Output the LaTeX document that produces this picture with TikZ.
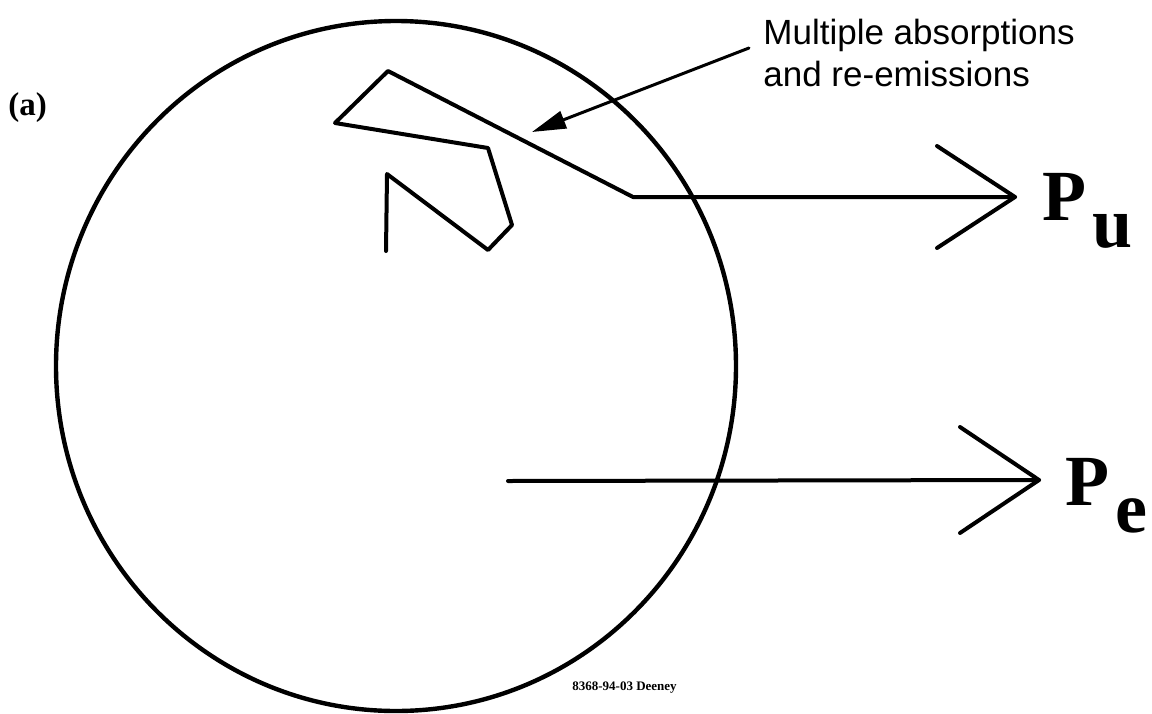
\documentclass[tikz,border=0pt]{standalone}
\usepackage{fontspec}
\setmainfont{Liberation Serif}
\newfontfamily\labelsans{Liberation Sans}
\usetikzlibrary{arrows.meta, positioning}
\tikzset{
  every picture/.style={line join=round, line cap=round},
  sphere/.style={draw, line width=2.2pt},
  ray/.style={draw, line width=2pt},
  barb/.style={draw, line width=2pt},
  leader/.style={-{Triangle[length=17pt, width=9pt]}, draw, line width=1.5pt},
  power/.style={font=\fontsize{36}{40}\selectfont\bfseries, inner sep=0pt, anchor=base west},
  note/.style={font=\labelsans\fontsize{17.5}{21}\selectfont, align=left, inner sep=0pt, anchor=north west},
}

\begin{document}
\begin{tikzpicture}[x=0.5pt, y=-0.5pt]
  \useasboundingbox (0,0) rectangle (1152,713);
  \node[font=\fontsize{16.5}{18}\selectfont\bfseries, inner sep=0pt, anchor=base west] (tag) at (8,115) {(a)};
  \draw[sphere] (396,366) ellipse [x radius=340, y radius=345];
  % photon that is absorbed and re-emitted several times
  \coordinate (born) at (386,251);
  \coordinate (escape) at (633,197);
  \coordinate (putip) at (1015,197);
  \draw[ray] (born) -- (387,174) -- (488,250) -- (512,225) -- (488,148)
    -- (335,123) -- (388,71) -- (escape) -- (putip);
  \draw[barb] (putip) ++(-78,-51) -- (putip) -- ++(-78,51);
  \node[power] (pu) at (1042,220) {P\hspace{3pt}\raisebox{-13.5pt}{u}};
  % photon that escapes directly
  \coordinate (start) at (508,481);
  \coordinate (petip) at (1039,480);
  \draw[ray] (start) -- (petip);
  \draw[barb] (petip) ++(-79,-53) -- (petip) -- ++(-79,53);
  \node[power] (pe) at (1065,505) {P\hspace{3pt}\raisebox{-13.5pt}{e}};
  % annotation
  \node[note] (lbl) at (763,19) {Multiple absorptions\\and re-emissions};
  \coordinate (lead) at (749,48);
  \coordinate (hit) at (532,132);
  \draw[leader] (lead) -- (hit);
  \node[font=\fontsize{6.5}{7}\selectfont\bfseries, inner sep=0pt, anchor=west] (ref) at (572,688) {8368-94-03 Deeney};
\end{tikzpicture}
\end{document}
